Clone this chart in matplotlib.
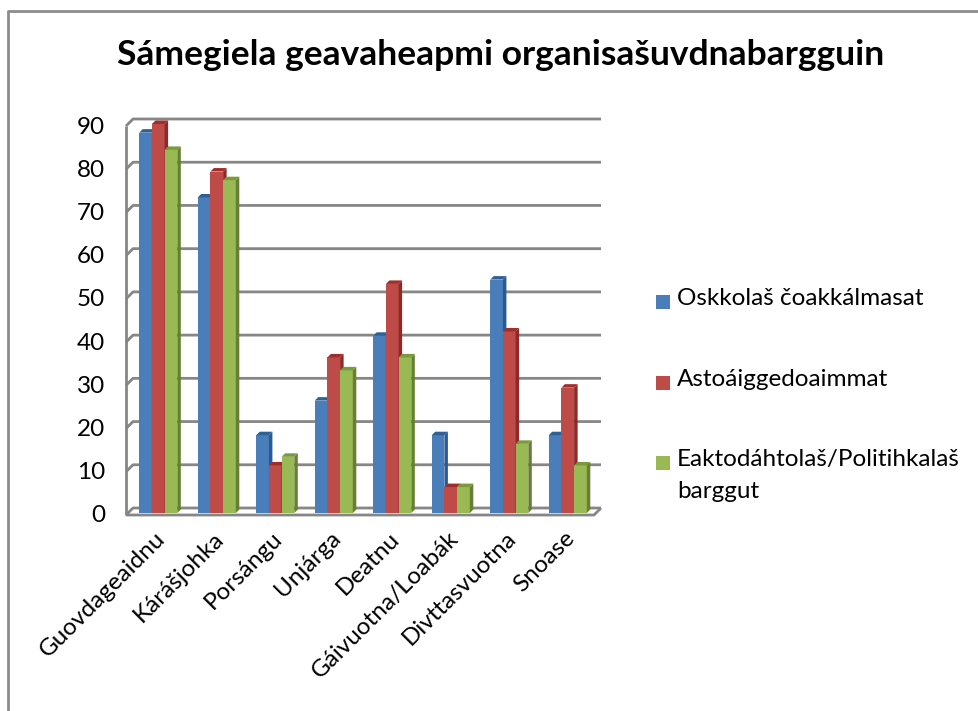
import numpy as np
import matplotlib
matplotlib.use('Agg')
from matplotlib import pyplot as plt
from matplotlib.patches import Polygon, Rectangle
from matplotlib.lines import Line2D

plt.rcParams['font.family'] = ['Lato', 'DejaVu Sans']

# data
categories = ['Guovdageaidnu', 'Kárášjohka', 'Porsángu', 'Unjárga', 'Deatnu',
              'Gáivuotna/Loabák', 'Divttasvuotna', 'Snoase']
series_names = ['Oskkolaš čoakkálmasat', 'Astoáiggedoaimmat',
                'Eaktodáhtolaš/Politihkalaš\nbarggut']
oskkolas = [88, 73, 18, 26, 41, 18, 54, 18]
astoaigge = [90, 79, 11, 36, 53, 6, 42, 29]
eaktodaht = [84, 77, 13, 33, 36, 6, 16, 11]
yticks = list(range(0, 100, 10))
title = 'Sámegiela geavaheapmi organisašuvdnabargguin'

front_cols = ['#4A7EBB', '#BE4B48', '#98B954']
side_cols = ['#2A5A8F', '#8C2A27', '#667F35']
top_cols = ['#2F6199', '#A02F2C', '#7A9A3E']
grid_col = '#868686'

W, H = 979, 711
fig = plt.figure(figsize=(W / 100, H / 100), dpi=100)
ax = fig.add_axes([129 / W, (H - 513) / H, 468 / W, 389 / H])
ax.set_xlim(-0.5, len(categories) - 0.5)
ax.set_ylim(0, 90)
ax.axis('off')

# pixel -> data scale, to fake the 3D depth
p0 = ax.transData.transform((0, 0))
p1 = ax.transData.transform((1, 1))
sx, sy = p1[0] - p0[0], p1[1] - p0[1]


def px(dx, dy):
    return dx / sx, dy / sy


bx, by = px(4, 5)      # back wall
fx, fy = px(-3, -2)    # front edge of walls/floor
dx, dy = px(3.5, 3.5)  # bar depth
x0, x1 = -0.5, len(categories) - 0.5

# walls, floor and gridlines
kw = dict(color=grid_col, lw=2, clip_on=False, zorder=1, solid_capstyle='butt')
ax.plot([x0 + fx, x0 + fx], [fy, 90 + fy], **kw)
for t in yticks:
    ax.plot([x0 + fx, x0 + bx, x1 + bx], [t + fy, t + by, t + by], **kw)
ax.plot([x0 + fx, x1 + fx, x1 + bx], [fy, fy, by], **kw)

# bars
series = [oskkolas, astoaigge, eaktodaht]
w = 12.7 / sx
x = np.arange(len(categories))
z = 2
for k, vals in enumerate(series):
    xs = x + (k - 1) * w
    ax.bar(xs, vals, width=w, color=front_cols[k], zorder=z + 2 * k, clip_on=False)
    for xc, v in zip(xs, vals):
        l, r = xc - w / 2, xc + w / 2
        ax.add_patch(Polygon([(l, v), (r, v), (r + dx, v + dy), (l + dx, v + dy)],
                             closed=True, fc=top_cols[k], ec='none',
                             zorder=z + 2 * k + 1, clip_on=False))
        ax.add_patch(Polygon([(r, 0), (r + dx, dy), (r + dx, v + dy), (r, v)],
                             closed=True, fc=side_cols[k], ec='none',
                             zorder=z + 2 * k + 1, clip_on=False))

# y tick labels
for t in yticks:
    ax.annotate(str(t), (x0, t), xytext=(-24, -3), textcoords='offset pixels',
                ha='right', va='center', fontsize=17.5)

# category labels
for i, c in enumerate(categories):
    ax.annotate(c, (i, 0), xytext=(4, -22), textcoords='offset pixels',
                ha='right', va='center', rotation=45, rotation_mode='anchor',
                fontsize=17.5)

# title
fig.text(501 / W, 1 - 55 / H, title, ha='center', va='center',
         fontsize=25.5, fontweight='bold')

# legend
leg_y = [302, 383, 463]
for k, name in enumerate(series_names):
    fig.add_artist(Rectangle((656 / W, 1 - (leg_y[k] + 7) / H), 14 / W, 14 / H,
                             transform=fig.transFigure, fc=front_cols[k], ec='none'))
    fig.text(677 / W, 1 - (leg_y[k] - 14) / H, name, ha='left', va='top',
             fontsize=17.5, linespacing=1.65)

# outer frame (only top and left visible)
fig.add_artist(Line2D([8 / W, 8 / W, 1], [0, 1 - 11 / H, 1 - 11 / H],
                      transform=fig.transFigure, color='#8C8C8C', lw=2))

fig.savefig('out.png', dpi=100)
